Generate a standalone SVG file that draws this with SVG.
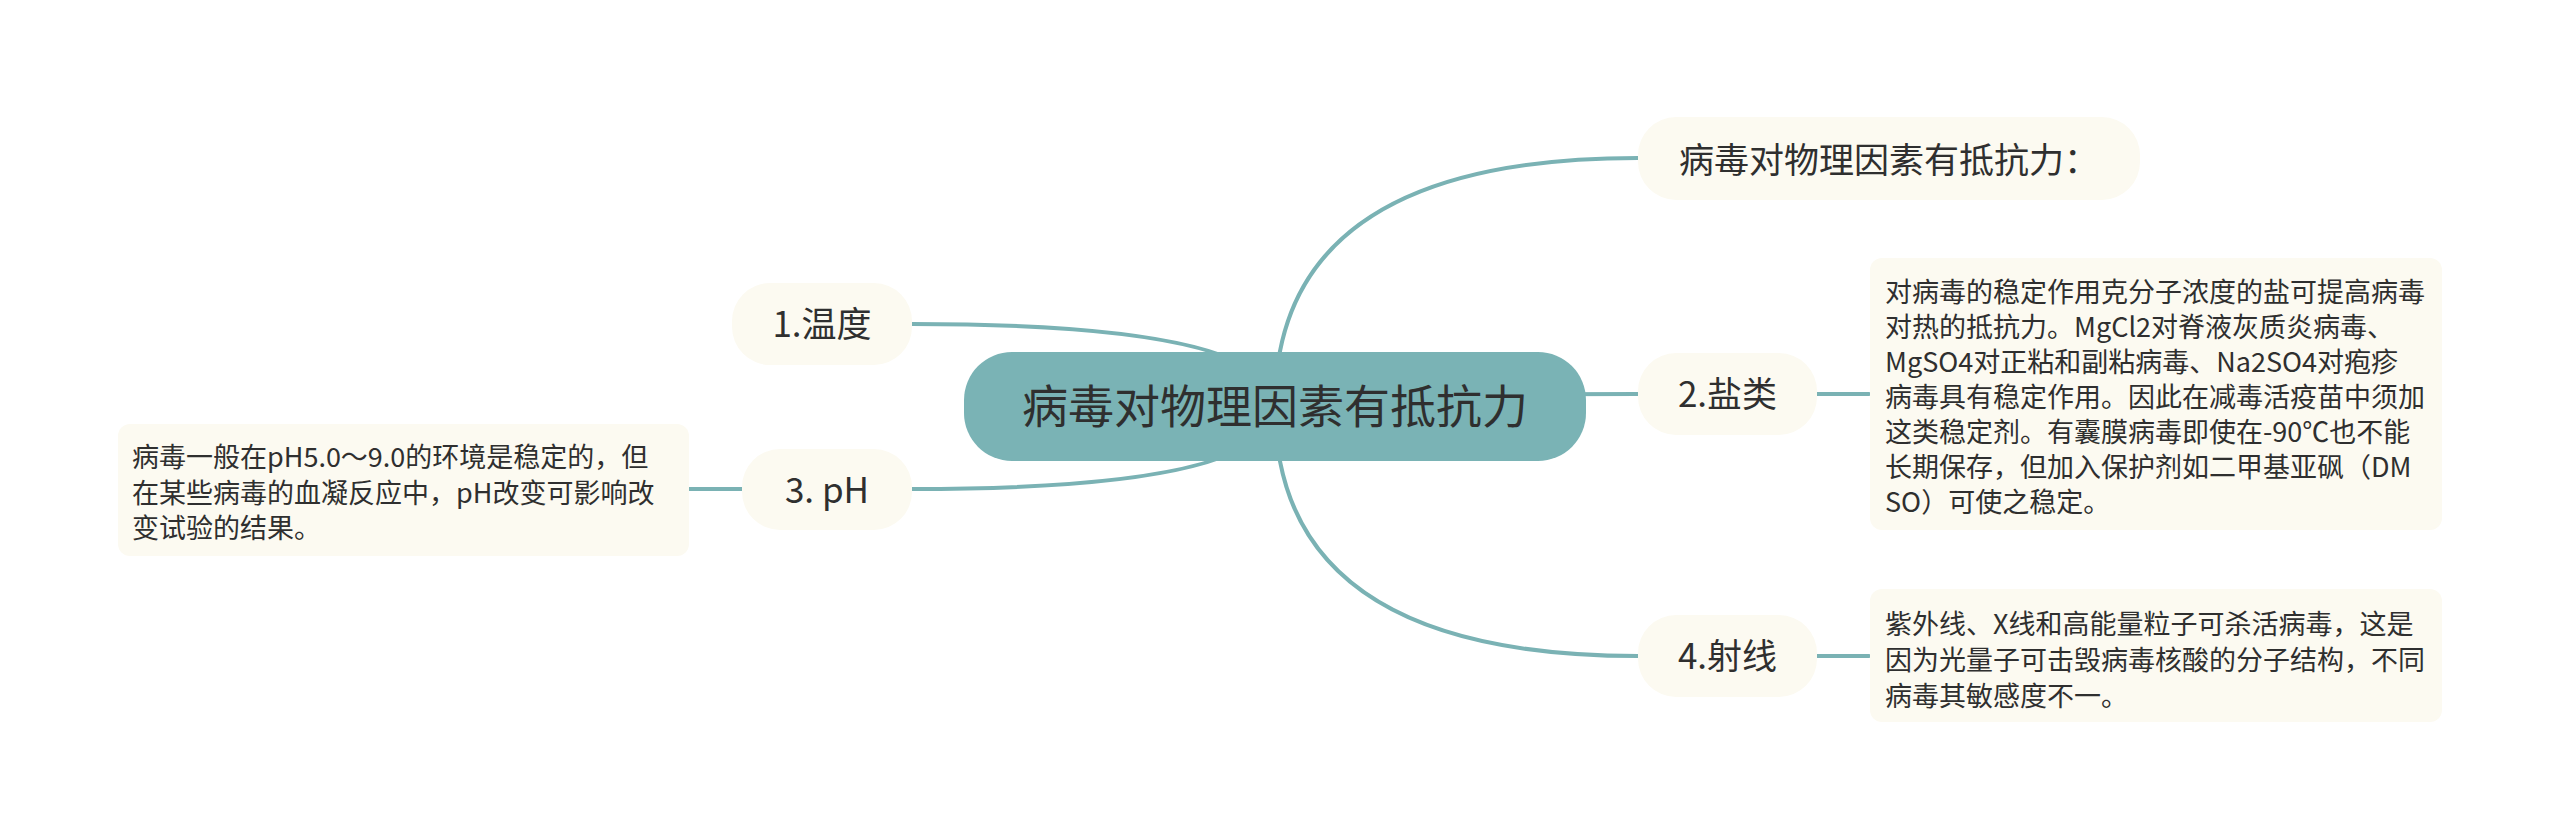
<svg xmlns="http://www.w3.org/2000/svg" width="2560" height="839" viewBox="0 0 2560 839">
<style>
.bg{fill:#ffffff}
.link{fill:none;stroke:#7ab2b4;stroke-width:4;stroke-linecap:round}
.root{fill:#7ab3b5}
.sub{fill:#fcfaf1}
.box{fill:#fcfaf1}
text{font-family:"Noto Sans CJK SC","Noto Sans",sans-serif;fill:#2f2f2f}
.t0{font-size:46px;text-anchor:middle}
.t1{font-size:35px;text-anchor:middle}
.t2{font-size:27px}
</style>
<rect class="bg" x="0" y="0" width="2560" height="839"/>
<g id="connectors">
<path class="link" d="M1275 406 Q1275 158 1638 158"/>
<path class="link" d="M1275 406 Q1275 394 1638 394"/>
<path class="link" d="M1275 406 Q1275 656 1638 656"/>
<path class="link" d="M1275 406 Q1275 324 912 324"/>
<path class="link" d="M1275 406 Q1275 489 912 489"/>
<path class="link" d="M1817 394 L1869 394"/>
<path class="link" d="M1817 656 L1869 656"/>
<path class="link" d="M742 489 L689 489"/>
</g>
<g id="root">
<rect class="root" x="964" y="352" width="622" height="109" rx="48"/>
<text class="t0" x="1275" y="423">病毒对物理因素有抵抗力</text>
</g>
<g id="n-title">
<rect class="sub" x="1638" y="117" width="502" height="83" rx="38"/>
<text class="t1" x="1889" y="173">病毒对物理因素有抵抗力：</text>
</g>
<g id="n-salt">
<rect class="sub" x="1638" y="353" width="179" height="82" rx="38"/>
<text class="t1" x="1727.5" y="407">2.盐类</text>
</g>
<g id="n-salt-detail">
<rect class="box" x="1870" y="258" width="572" height="272" rx="12"/>
<text class="t2" x="1885" y="302">对病毒的稳定作用克分子浓度的盐可提高病毒</text>
<text class="t2" x="1885" y="337">对热的抵抗力。MgCl2对脊液灰质炎病毒、</text>
<text class="t2" x="1885" y="372">MgSO4对正粘和副粘病毒、Na2SO4对疱疹</text>
<text class="t2" x="1885" y="407">病毒具有稳定作用。因此在减毒活疫苗中须加</text>
<text class="t2" x="1885" y="442">这类稳定剂。有囊膜病毒即使在-90℃也不能</text>
<text class="t2" x="1885" y="477">长期保存，但加入保护剂如二甲基亚砜（DM</text>
<text class="t2" x="1885" y="512">SO）可使之稳定。</text>
</g>
<g id="n-ray">
<rect class="sub" x="1638" y="615" width="179" height="82" rx="38"/>
<text class="t1" x="1727.5" y="669">4.射线</text>
</g>
<g id="n-ray-detail">
<rect class="box" x="1870" y="589" width="572" height="133" rx="12"/>
<text class="t2" x="1885" y="634">紫外线、X线和高能量粒子可杀活病毒，这是</text>
<text class="t2" x="1885" y="670">因为光量子可击毁病毒核酸的分子结构，不同</text>
<text class="t2" x="1885" y="706">病毒其敏感度不一。</text>
</g>
<g id="n-temp">
<rect class="sub" x="732" y="283" width="180" height="82" rx="38"/>
<text class="t1" x="822" y="337">1.温度</text>
</g>
<g id="n-ph">
<rect class="sub" x="742" y="449" width="170" height="81" rx="38"/>
<text class="t1" x="827" y="503">3. pH</text>
</g>
<g id="n-ph-detail">
<rect class="box" x="118" y="424" width="571" height="132" rx="12"/>
<text class="t2" x="132" y="467">病毒一般在pH5.0～9.0的环境是稳定的，但</text>
<text class="t2" x="132" y="503">在某些病毒的血凝反应中，pH改变可影响改</text>
<text class="t2" x="132" y="538">变试验的结果。</text>
</g>
</svg>
